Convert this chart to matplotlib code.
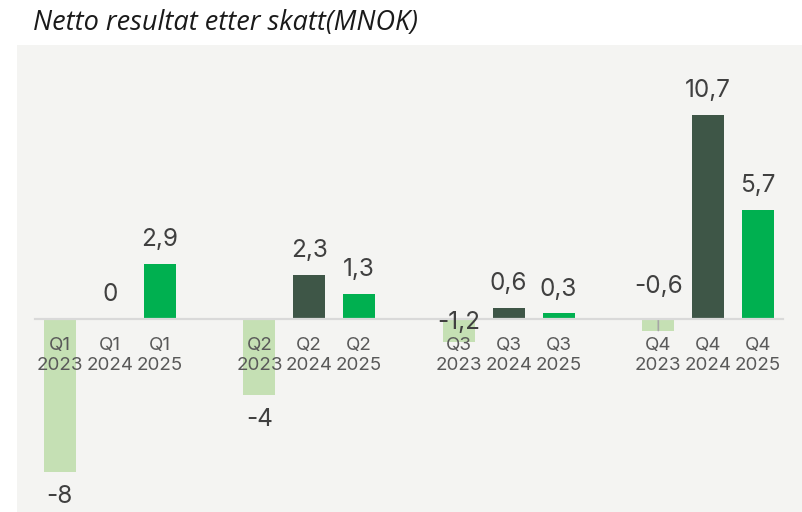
"""Netto resultat etter skatt (MNOK) - quarterly bars, 2023-2025."""
import matplotlib
matplotlib.use("Agg")
import matplotlib.pyplot as plt
from matplotlib.patches import Rectangle

# ---------------------------------------------------------------------
# Data
# ---------------------------------------------------------------------
quarters = ["Q1", "Q2", "Q3", "Q4"]
years = ["2023", "2024", "2025"]
values_2023 = [-8.0, -4.0, -1.2, -0.6]
values_2024 = [0.0, 2.3, 0.6, 10.7]
values_2025 = [2.9, 1.3, 0.3, 5.7]

# ---------------------------------------------------------------------
# Style
# ---------------------------------------------------------------------
COLORS = {"2023": "#c5e0b4", "2024": "#3e5647", "2025": "#00b050"}
PANEL = "#f4f4f2"
AXIS = "#d9d9d9"
TICK_TXT = "#595959"
VAL_TXT = "#404040"
BAR_W = 0.64
LABEL_PT = 17.5          # distance of value label centre from bar end
# Excel placed a couple of labels oddly; nudges in points (up = +)
NUDGE = {(2, "2023"): 14.0 + 17.5, (3, "2023"): 31.5 + 17.5}

plt.rcParams["font.family"] = ["Inter", "DejaVu Sans"]

fig = plt.figure(figsize=(8.03, 5.12), dpi=100)
fig.patch.set_facecolor("white")
panel = Rectangle((17 / 803, 0), 1, (512 - 45) / 512,
                  transform=fig.transFigure, facecolor=PANEL,
                  edgecolor="none", zorder=-10)
fig.add_artist(panel)

ax = fig.add_axes([35 / 803, 0, (783 - 35) / 803, (512 - 45) / 512])
ax.set_zorder(1)
ax.patch.set_alpha(0)

series = {"2023": values_2023, "2024": values_2024, "2025": values_2025}
xs, xlabels = [], []
for qi, q in enumerate(quarters):
    for yi, y in enumerate(years):
        x = qi * 4 + yi
        v = series[y][qi]
        xs.append(x)
        xlabels.append(f"{q}\n{y}")
        ax.bar(x, v, width=BAR_W, color=COLORS[y], zorder=1)
        off = LABEL_PT if v >= 0 else -LABEL_PT
        off += NUDGE.get((qi, y), 0)
        txt = f"{v:g}".replace(".", ",")
        ax.annotate(txt, (x, v), xytext=(0, off), textcoords="offset points",
                    ha="center", va="center", fontsize=17.5, color=VAL_TXT,
                    zorder=6)

# leader line for Q4 2023 label
ax.annotate("", xy=(12, -0.6), xytext=(12, 0), arrowprops=dict(
    arrowstyle="-", color="#a6a6a6", lw=1.2, shrinkA=0, shrinkB=0), zorder=3)

ax.set_xlim(-0.5, 14.5)
ax.set_ylim(-10.1, 14.35)
ax.tick_params(axis="x", length=0, pad=13, labelsize=13.5, labelcolor=TICK_TXT)
ax.set_xticks(xs)
ax.set_xticklabels(xlabels, linespacing=1.1)
ax.xaxis.set_zorder(5)
ax.set_yticks([])
for s in ("top", "right", "left"):
    ax.spines[s].set_visible(False)
ax.spines["bottom"].set_position(("data", 0))
ax.spines["bottom"].set_color(AXIS)
ax.spines["bottom"].set_linewidth(1.6)
ax.spines["bottom"].set_zorder(3)

fig.text(33 / 803, 1 - 23 / 512, "Netto resultat etter skatt(MNOK)",
         fontsize=19.5, style="italic", color="#1a1a1a",
         family=["Open Sans", "DejaVu Sans"], ha="left", va="center")

fig.savefig("out.png", dpi=100)
